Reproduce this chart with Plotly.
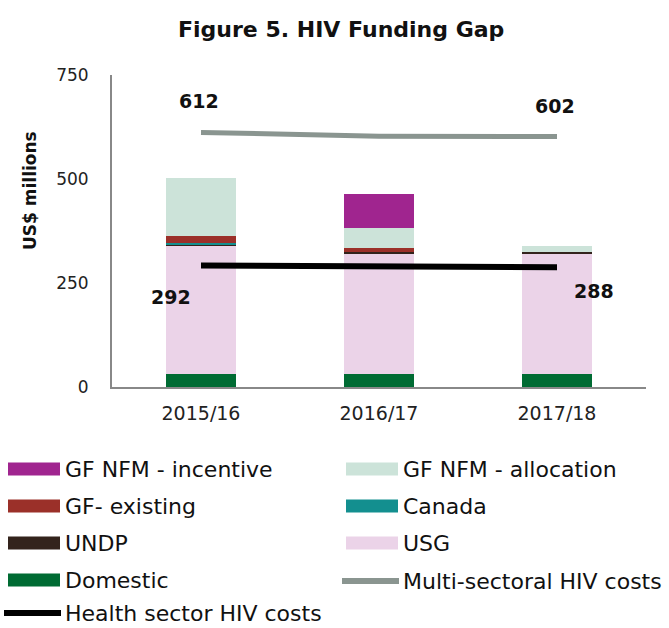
import plotly.graph_objects as go

categories = ["2015/16", "2016/17", "2017/18"]

domestic = [31, 31, 31]
usg = [308, 289, 291]
undp = [4, 5, 3]
canada = [4, 0, 0]
gf_existing = [15, 10, 0]
gf_allocation = [140, 48, 14]
gf_incentive = [0, 82, 0]

multi_sectoral = [612, 603, 602]
health_sector = [292, 290, 288]

multi_labels = ["612", "", "602"]
health_labels = ["292", "", "288"]

bar_series = [
    ("Domestic", domestic, "#006B33"),
    ("USG", usg, "#EBD3E8"),
    ("UNDP", undp, "#33231C"),
    ("Canada", canada, "#138F8F"),
    ("GF- existing", gf_existing, "#9B3029"),
    ("GF NFM - allocation", gf_allocation, "#CCE3D9"),
    ("GF NFM - incentive", gf_incentive, "#A0258F"),
]

FONT = "DejaVu Sans"
BOLD = "DejaVu Sans"
LEG = "DejaVu Sans"
W, H = 669, 628
ML, MR, MT, MB = 112, 23, 75, 241

fig = go.Figure()
for name, vals, col in bar_series:
    fig.add_trace(go.Bar(x=categories, y=vals, name=name, marker_color=col,
                         marker_line_width=0, width=0.39, showlegend=False))

fig.add_trace(go.Scatter(x=categories, y=multi_sectoral, mode="lines",
                         line=dict(color="#8A9590", width=5), name="Multi-sectoral HIV costs",
                         showlegend=False))
fig.add_trace(go.Scatter(x=categories, y=health_sector, mode="lines",
                         line=dict(color="#000000", width=6), name="Health sector HIV costs",
                         showlegend=False))

# data labels
for c, v, t in zip(categories, multi_sectoral, multi_labels):
    if t:
        fig.add_annotation(x=c, y=v, text=f"<b>{t}</b>", showarrow=False, xref="x", yref="y",
                           yshift=31, xshift=-2, font=dict(family=BOLD, size=19, color="#111"))
for i, (c, v, t) in enumerate(zip(categories, health_sector, health_labels)):
    if t:
        fig.add_annotation(x=c, y=v, text=f"<b>{t}</b>", showarrow=False, xref="x", yref="y",
                           yshift=-31 if i == 0 else -24, xshift=-30 if i == 0 else 37,
                           font=dict(family=BOLD, size=19, color="#111"))

# y-axis title
fig.add_annotation(text="<b>US$ millions</b>", textangle=-90, showarrow=False,
                   xref="paper", yref="paper",
                   x=(18 - ML) / (W - ML - MR), y=(387 - 190) / 312,
                   font=dict(family=BOLD, size=17, color="#111"))

# manual legend
pw = W - ML - MR
ph = H - MT - MB
def px(xp):
    return (xp - ML) / pw
def py(yp):
    return (MT + ph - yp) / ph

legend_items = [
    ("GF NFM - incentive", "#A0258F", "bar", 0, 469),
    ("GF NFM - allocation", "#CCE3D9", "bar", 1, 469),
    ("GF- existing", "#9B3029", "bar", 0, 506),
    ("Canada", "#138F8F", "bar", 1, 506),
    ("UNDP", "#33231C", "bar", 0, 543),
    ("USG", "#EBD3E8", "bar", 1, 543),
    ("Domestic", "#006B33", "bar", 0, 580),
    ("Multi-sectoral HIV costs", "#8A9590", "line", 1, 581),
    ("Health sector HIV costs", "#000000", "line", 0, 613),
]
for text, col, kind, column, yy in legend_items:
    if kind == "bar":
        x0 = 8 if column == 0 else 346
        x1 = x0 + 52
        fig.add_shape(type="rect", xref="paper", yref="paper",
                      x0=px(x0), x1=px(x1), y0=py(yy + 6.5), y1=py(yy - 6.5),
                      fillcolor=col, line_width=0)
        tx = x1 + 3
    else:
        x0 = 4 if column == 0 else 342
        x1 = x0 + 57
        fig.add_shape(type="line", xref="paper", yref="paper",
                      x0=px(x0), x1=px(x1), y0=py(yy), y1=py(yy),
                      line=dict(color=col, width=6))
        tx = x1 + 2
    fig.add_annotation(text=text, xref="paper", yref="paper", x=px(tx), y=py(yy),
                       xanchor="left", yanchor="middle", showarrow=False,
                       font=dict(family=LEG, size=22, color="#111"))

fig.update_layout(
    width=W, height=H,
    margin=dict(l=ML, r=MR, t=MT, b=MB),
    plot_bgcolor="white", paper_bgcolor="white",
    barmode="stack",
    bargap=0.61,
    title=dict(text="<b>Figure 5. HIV Funding Gap</b>", x=0.51, xanchor="center",
               y=1 - 29 / H, yanchor="middle",
               font=dict(family=BOLD, size=22, color="#111")),
    font=dict(family=FONT, size=18, color="#222"),
    showlegend=False,
    xaxis=dict(showline=True, linecolor="#888", linewidth=2, ticks="",
               tickfont=dict(size=19), showgrid=False, ticklabelstandoff=8),
    yaxis=dict(range=[0, 750], tickvals=[0, 250, 500, 750], showline=True,
               linecolor="#888", linewidth=2, showgrid=False, zeroline=False,
               ticks="", ticklabelstandoff=18, tickfont=dict(size=17)),
    hovermode=False,
)

fig.write_html("out.html", config={"displayModeBar": False},
               post_script="document.body.style.margin='0';")
